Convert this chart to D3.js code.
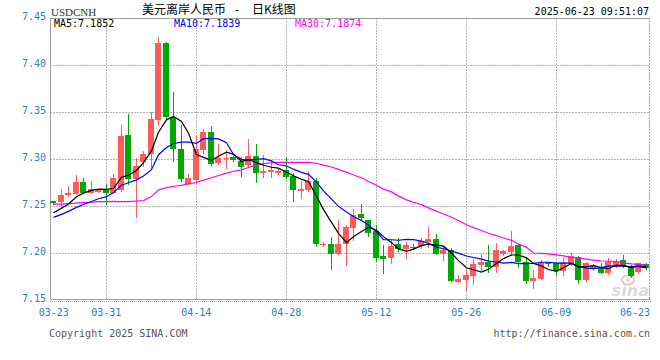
<!DOCTYPE html>
<html>
<head>
<meta charset="utf-8">
<script src="https://cdn.jsdelivr.net/npm/d3@7"></script>
<style>
  body { margin: 0; background: #fff; }
  svg { display: block; }
  text { font-family: "DejaVu Sans Mono", monospace; font-size: 10px; }
</style>
</head>
<body>
<svg id="chart" width="660" height="360"></svg>
<script>
// trading days (Sun-Fri sessions)
const dates = [
  "03-23","03-24","03-25","03-26","03-27","03-28",
  "03-30","03-31","04-01","04-02","04-03","04-04",
  "04-06","04-07","04-08","04-09","04-10","04-11",
  "04-13","04-14","04-15","04-16","04-17","04-18",
  "04-20","04-21","04-22","04-23","04-24","04-25",
  "04-27","04-28","04-29","04-30","05-01","05-02",
  "05-04","05-05","05-06","05-07","05-08","05-09",
  "05-11","05-12","05-13","05-14","05-15","05-16",
  "05-18","05-19","05-20","05-21","05-22","05-23",
  "05-25","05-26","05-27","05-28","05-29","05-30",
  "06-01","06-02","06-03","06-04","06-05","06-06",
  "06-08","06-09","06-10","06-11","06-12","06-13",
  "06-15","06-16","06-17","06-18","06-19","06-20",
  "06-22","06-23"
];

const open = [
  7.2553,7.2546,7.2617,7.2628,7.2755,7.2642,7.2652,7.2677,7.2642,7.2670,
  7.3255,7.2784,7.2971,7.3053,7.3415,7.4237,7.3443,7.3106,7.2734,7.2776,
  7.3095,7.3290,7.2961,7.3003,7.3025,7.2982,7.2932,7.3035,7.2855,7.2862,
  7.2851,7.2883,7.2823,7.2663,7.2670,7.2766,7.2082,7.2096,7.1989,7.2096,
  7.2262,7.2415,7.2351,7.2238,7.1968,7.1950,7.2096,7.2043,7.2067,7.2074,
  7.2121,7.2145,7.1989,7.2032,7.1695,7.1713,7.1759,7.1872,7.1908,7.1855,
  7.1986,7.2014,7.2085,7.1908,7.1706,7.1723,7.1901,7.1890,7.1812,7.1879,
  7.1961,7.1713,7.1826,7.1837,7.1787,7.1855,7.1926,7.1848,7.1794,7.1880
];
const high = [
  7.2556,7.2677,7.2713,7.2830,7.2798,7.2770,7.2682,7.2734,7.2844,7.3362,
  7.3479,7.3014,7.3085,7.3503,7.4294,7.4250,7.3716,7.3362,7.2837,7.3251,
  7.3315,7.3351,7.3159,7.3095,7.3028,7.3025,7.3216,7.3160,7.3043,7.2989,
  7.2904,7.3025,7.2848,7.2770,7.2869,7.2794,7.2121,7.2174,7.2351,7.2298,
  7.2465,7.2521,7.2355,7.2301,7.2085,7.2138,7.2156,7.2121,7.2092,7.2156,
  7.2273,7.2202,7.2074,7.2050,7.1766,7.1826,7.1933,7.1989,7.2085,7.2103,
  7.2030,7.2234,7.2092,7.1961,7.1819,7.1926,7.1908,7.1895,7.1943,7.1996,
  7.1968,7.1908,7.1880,7.1890,7.1943,7.1933,7.1979,7.1872,7.1897,7.1897
];
const low = [
  7.2525,7.2475,7.2610,7.2625,7.2635,7.2635,7.2648,7.2521,7.2635,7.2659,
  7.2734,7.2386,7.2925,7.2908,7.3362,7.3435,7.2982,7.2769,7.2730,7.2769,
  7.3067,7.2940,7.2947,7.2908,7.2982,7.2819,7.2918,7.2759,7.2812,7.2812,
  7.2837,7.2794,7.2553,7.2589,7.2663,7.2074,7.2074,7.1830,7.1986,7.1872,
  7.2138,7.2365,7.2181,7.1918,7.1784,7.1897,7.2025,7.1943,7.2039,7.2050,
  7.2060,7.1985,7.1925,7.1700,7.1692,7.1606,7.1670,7.1819,7.1801,7.1801,
  7.1980,7.1979,7.1848,7.1684,7.1631,7.1720,7.1865,7.1766,7.1766,7.1872,
  7.1684,7.1706,7.1820,7.1784,7.1780,7.1848,7.1848,7.1748,7.1790,7.1830
];
const close = [
  7.2528,7.2617,7.2642,7.2755,7.2642,7.2677,7.2677,7.2635,7.2798,7.3245,
  7.2784,7.2925,7.3053,7.3425,7.4237,7.3443,7.3103,7.2787,7.2798,7.3106,
  7.3290,7.2947,7.3007,7.3014,7.2989,7.2918,7.3032,7.2855,7.2872,7.2883,
  7.2872,7.2812,7.2670,7.2681,7.2766,7.2096,7.2096,7.1989,7.2096,7.2280,
  7.2404,7.2369,7.2209,7.1950,7.1940,7.2074,7.2043,7.2085,7.2064,7.2128,
  7.2149,7.1989,7.2032,7.1706,7.1720,7.1766,7.1883,7.1908,7.1855,7.2032,
  7.2025,7.2074,7.1908,7.1702,7.1738,7.1890,7.1883,7.1812,7.1890,7.1968,
  7.1713,7.1890,7.1862,7.1791,7.1908,7.1908,7.1862,7.1759,7.1890,7.1840
];
// closes of the 9 sessions before 03-23 (needed for the first MA5 / MA10 points)
const prevClose = [7.2300,7.2320,7.2330,7.2340,7.2355,7.2387,7.2412,7.2365,7.2453];

// MA30
const ma30 = [
  7.2521,7.2521,7.2525,7.2530,7.2535,7.2540,7.2546,7.2546,7.2550,7.2546,
  7.2546,7.2553,7.2557,7.2600,7.2670,7.2695,7.2710,7.2720,7.2735,7.2750,
  7.2775,7.2800,7.2825,7.2850,7.2870,7.2885,7.2910,7.2935,7.2950,7.2960,
  7.2965,7.2965,7.2965,7.2965,7.2965,7.2955,7.2935,7.2915,7.2890,7.2860,
  7.2830,7.2800,7.2760,7.2720,7.2680,7.2650,7.2605,7.2565,7.2540,7.2515,
  7.2480,7.2445,7.2415,7.2380,7.2345,7.2300,7.2270,7.2240,7.2210,7.2185,
  7.2160,7.2135,7.2095,7.2060,7.2000,7.1995,7.1990,7.1980,7.1970,7.1955,
  7.1945,7.1935,7.1925,7.1915,7.1912,7.1908,7.1895,7.1885,7.1880,7.1874
];

// values printed in the legend
const maLabels = ["MA5", "MA10", "MA30"];
const maLast = ["7.1852", "7.1839", "7.1874"];

const yTicks = [7.15, 7.20, 7.25, 7.30, 7.35, 7.40, 7.45];
const xTicks = ["03-23","03-31","04-14","04-28","05-12","05-26","06-09","06-23"];

const svg = d3.select("#chart");
const plotL = 50, plotR = 650, plotT = 18, plotB = 300;
const upColor = "#ff5b5b", downColor = "#00a800", labelColor = "#1f80d0";
const maColors = ["#000", "#0000ff", "#ff00ff"];

const x = d3.scaleBand().domain(dates).range([plotL, plotR]).paddingInner(0).paddingOuter(0);
const y = d3.scaleLinear().domain([7.15, 7.45]).range([plotB, plotT]);
const bw = x.bandwidth();
const cx = d => Math.round(x(d)) + 3.5;

// moving averages
const allClose = prevClose.concat(close);
const movingAvg = n => close.map((c, i) => {
  const j = i + prevClose.length;
  return d3.mean(allClose.slice(j - n + 1, j + 1));
});
const ma5 = movingAvg(5);
const ma10 = movingAvg(10);

// grid
const grid = svg.append("g").attr("stroke", "#b4b4b4").attr("stroke-dasharray", "2,1").attr("shape-rendering", "crispEdges");
yTicks.filter(v => v > 7.15 && v < 7.45).forEach(v => {
  grid.append("line").attr("x1", plotL).attr("x2", plotR).attr("y1", Math.round(y(v)) + 0.5).attr("y2", Math.round(y(v)) + 0.5);
});
xTicks.slice(1, -1).forEach(d => {
  grid.append("line").attr("x1", Math.round(x(d) + bw / 2) + 0.5).attr("x2", Math.round(x(d) + bw / 2) + 0.5).attr("y1", plotT).attr("y2", plotB);
});

// frame
const frame = svg.append("g").attr("stroke", "#a0a0a0").attr("shape-rendering", "crispEdges");
frame.append("line").attr("x1", plotL + 0.5).attr("x2", plotL + 0.5).attr("y1", plotT).attr("y2", plotB);
frame.append("line").attr("x1", plotL).attr("x2", plotR).attr("y1", plotT + 0.5).attr("y2", plotT + 0.5);
frame.append("line").attr("x1", plotL).attr("x2", plotR).attr("y1", plotB - 0.5).attr("y2", plotB - 0.5);
frame.append("line").attr("x1", plotL).attr("x2", plotR + 2).attr("y1", plotB + 1.5).attr("y2", plotB + 1.5).attr("stroke-dasharray", "1,1");
frame.append("line").attr("x1", plotR - 0.5).attr("x2", plotR - 0.5).attr("y1", plotT).attr("y2", plotB).attr("stroke-dasharray", "2,1");

// watermark
const wm = svg.append("g");
wm.append("ellipse").attr("cx", 628).attr("cy", 280).attr("rx", 6).attr("ry", 4.5).attr("fill", "none").attr("stroke", "#f0c4c4").attr("stroke-width", 2);
wm.append("circle").attr("cx", 628).attr("cy", 280).attr("r", 1.8).attr("fill", "#f0c4c4");
wm.append("text").attr("x", 649).attr("y", 296).attr("text-anchor", "end")
  .style("font-family", "DejaVu Sans").style("font-size", "16px").style("font-weight", "bold").style("font-style", "italic")
  .attr("fill", "#dadada").text("sina");

// candles
const idx = d3.range(dates.length);
const candles = svg.append("g").attr("shape-rendering", "crispEdges");
candles.selectAll("line.wick").data(idx).join("line")
  .attr("class", "wick")
  .attr("x1", i => cx(dates[i])).attr("x2", i => cx(dates[i]))
  .attr("y1", i => Math.round(y(high[i]))).attr("y2", i => Math.round(y(low[i])) + 1)
  .attr("stroke", i => close[i] >= open[i] ? upColor : downColor);
candles.selectAll("rect").data(idx).join("rect")
  .attr("x", i => Math.round(x(dates[i])))
  .attr("width", 6)
  .attr("y", i => Math.round(y(Math.max(open[i], close[i]))))
  .attr("height", i => Math.max(1, Math.round(y(Math.min(open[i], close[i]))) - Math.round(y(Math.max(open[i], close[i])))))
  .attr("fill", i => close[i] >= open[i] ? upColor : downColor);

// MA lines
const lineGen = arr => d3.line().x((v, i) => cx(dates[i])).y(v => y(v))(arr);
[ma30, ma10, ma5].forEach((arr, k) => {
  svg.append("path").attr("d", lineGen(arr)).attr("fill", "none")
    .attr("stroke", maColors[2 - k]).attr("stroke-width", 1.2);
});

// y labels
svg.append("g").selectAll("text").data(yTicks).join("text")
  .attr("x", 46).attr("y", v => y(v) + 2).attr("text-anchor", "end")
  .attr("fill", labelColor).text(v => v.toFixed(2));

// x labels
svg.append("g").selectAll("text").data(xTicks).join("text")
  .attr("x", d => Math.min(plotR - 15, Math.max(plotL, x(d) + bw / 2)))
  .attr("y", 316).attr("text-anchor", "middle")
  .attr("fill", labelColor).text(d => d);

// header
svg.append("text").attr("x", 51).attr("y", 16)
  .style("font-family", "Liberation Serif").style("font-size", "11px").attr("fill", "#333").text("USDCNH");
const title = svg.append("text").attr("x", 142).attr("y", 14)
  .style("font-family", "Noto Sans CJK SC").style("font-size", "12px").attr("fill", "#000");
title.append("tspan").text("美元离岸人民币");
title.append("tspan").attr("x", 235).text("-");
title.append("tspan").attr("x", 252).text("日K线图");
svg.append("text").attr("x", 649).attr("y", 15).attr("text-anchor", "end").attr("fill", "#000").text("2025-06-23 09:51:07");

const legendX = [54, 174, 295];
svg.append("g").selectAll("text").data(maLabels).join("text")
  .attr("x", (d, k) => legendX[k]).attr("y", 27).attr("fill", (d, k) => maColors[k])
  .text((d, k) => d + ":" + maLast[k]);

// footer
svg.append("text").attr("x", 49).attr("y", 337).attr("fill", "#555").text("Copyright 2025 SINA.COM");
svg.append("text").attr("x", 650).attr("y", 337).attr("text-anchor", "end").attr("fill", "#555").text("http://finance.sina.com.cn");
</script>
</body>
</html>
